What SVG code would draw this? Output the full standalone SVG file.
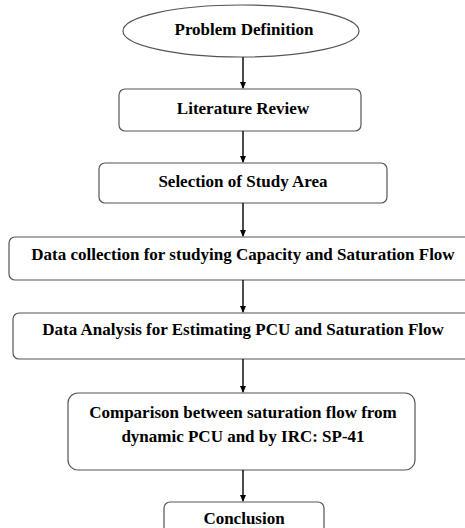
<svg xmlns="http://www.w3.org/2000/svg" width="465" height="528" viewBox="0 0 465 528">
<defs>
<marker id="arr" markerWidth="7" markerHeight="7" refX="6" refY="3.5" orient="auto" markerUnits="userSpaceOnUse">
<path d="M0,0.5 L7,3.5 L0,6.5 Z" fill="#000"/>
</marker>
</defs>
<style>
.box{fill:#fff;stroke:#555;stroke-width:1.2}
.t{font-family:'Liberation Serif','Times New Roman',serif;font-weight:bold;font-size:17px;fill:#000;text-anchor:middle}
.c{stroke:#000;stroke-width:1.4;fill:none;marker-end:url(#arr)}
</style>
<rect width="465" height="528" fill="#fff"/>
<g id="n1"><ellipse class="box" cx="241" cy="31" rx="118" ry="26"/><text class="t" x="244" y="35">Problem Definition</text></g>
<g id="n2"><rect class="box" x="119" y="89" width="242" height="42" rx="6"/><text class="t" x="243" y="114">Literature Review</text></g>
<g id="n3"><rect class="box" x="99" y="163" width="288" height="40" rx="6"/><text class="t" x="243" y="187">Selection of Study Area</text></g>
<g id="n4"><rect class="box" x="9" y="237" width="470" height="43" rx="6"/><text class="t" x="243" y="260">Data collection for studying Capacity and Saturation Flow</text></g>
<g id="n5"><rect class="box" x="13" y="313" width="470" height="46" rx="6"/><text class="t" x="243" y="335">Data Analysis for Estimating PCU and Saturation Flow</text></g>
<g id="n6"><rect class="box" x="68" y="393" width="347" height="77" rx="10"/><text class="t" x="243" y="418">Comparison between saturation flow from</text><text class="t" x="243" y="442">dynamic PCU and by IRC: SP-41</text></g>
<g id="n7"><rect class="box" x="164" y="502" width="160" height="40" rx="6"/><text class="t" x="244" y="524">Conclusion</text></g>
<g id="connectors">
<line class="c" x1="243" y1="57" x2="243" y2="88"/>
<line class="c" x1="243" y1="131" x2="243" y2="162"/>
<line class="c" x1="243" y1="203" x2="243" y2="236"/>
<line class="c" x1="243" y1="280" x2="243" y2="312"/>
<line class="c" x1="243" y1="359" x2="243" y2="392"/>
<line class="c" x1="243" y1="470" x2="243" y2="501"/>
</g>
</svg>
